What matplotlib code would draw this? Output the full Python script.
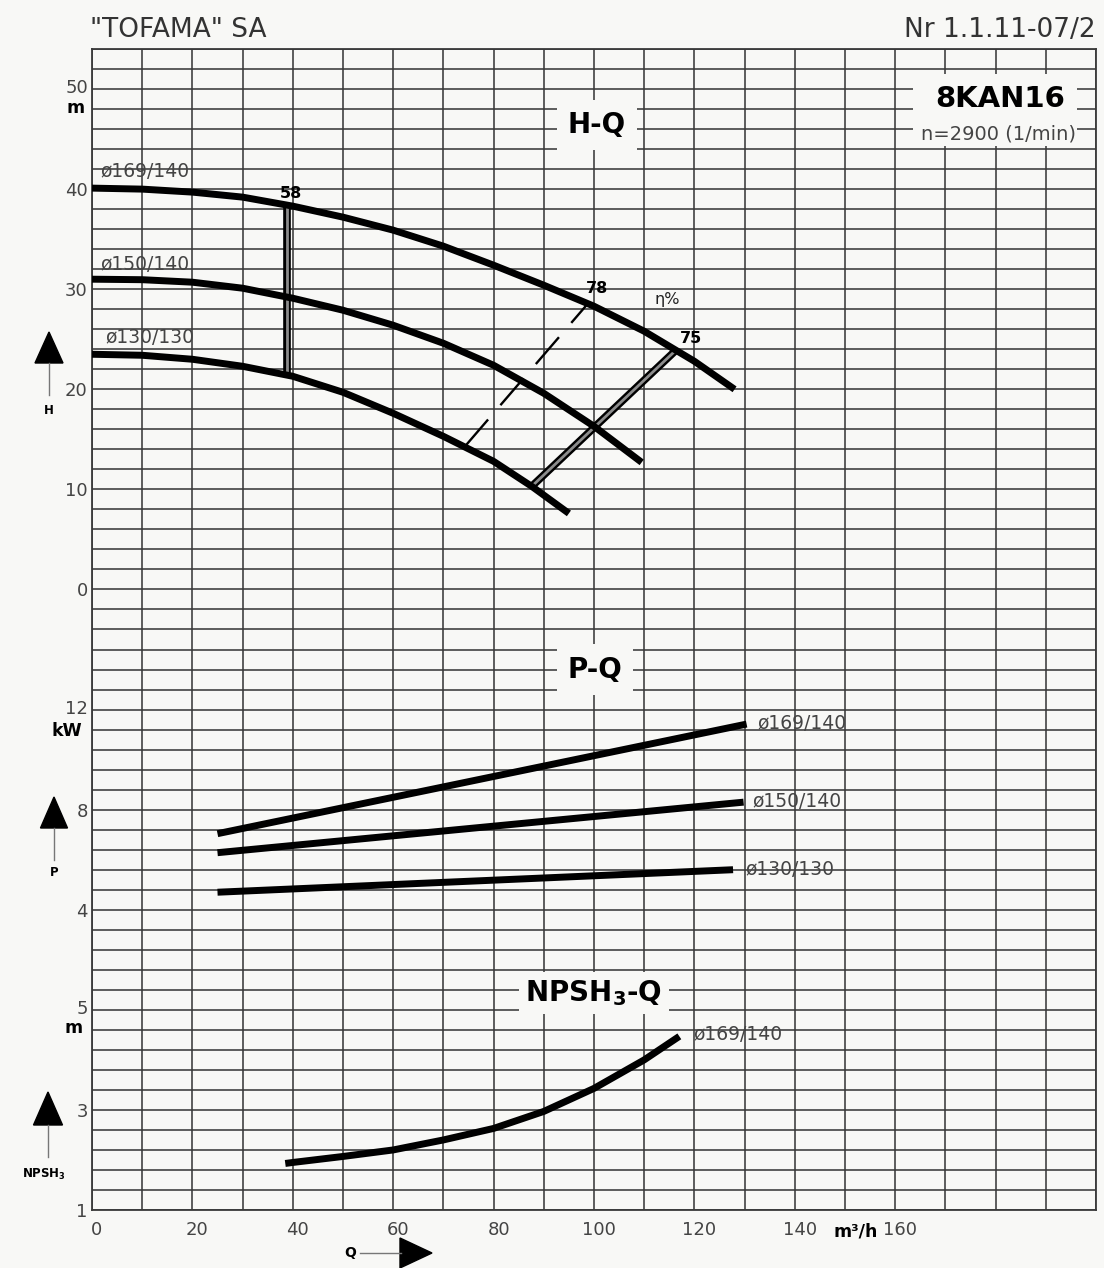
import numpy as np
import matplotlib
matplotlib.use("Agg")
import matplotlib.pyplot as plt
from matplotlib.patches import Polygon, Rectangle
from matplotlib.lines import Line2D
from matplotlib.transforms import ScaledTranslation

plt.rcParams['font.family'] = ['DejaVu Sans']
plt.rcParams['mathtext.fontset'] = 'dejavusans'

# ---------------- data ----------------
# H-Q curves (Q in m3/h, H in m)
q_169 = [0, 10, 20, 30, 40, 50, 60, 70, 80, 90, 100, 110, 120, 128]
h_169 = [40.1, 40.0, 39.7, 39.2, 38.3, 37.2, 35.9, 34.3, 32.4, 30.4, 28.3, 25.8, 22.8, 20.0]

q_150 = [0, 10, 20, 30, 40, 50, 60, 70, 80, 90, 100, 109.5]
h_150 = [31.0, 30.95, 30.7, 30.1, 29.1, 27.9, 26.4, 24.6, 22.4, 19.6, 16.3, 12.7]

q_130 = [0, 10, 20, 30, 40, 50, 60, 70, 80, 87.6, 95]
h_130 = [23.5, 23.4, 23.0, 22.3, 21.3, 19.7, 17.6, 15.3, 12.8, 10.3, 7.6]

# efficiency iso-lines (eta %)
eff_58_q = [38.8, 38.8]
eff_58_h = [38.2, 21.4]
eff_78_q = [74.3, 98.5]
eff_78_h = [14.3, 28.4]
eff_75_q = [87.6, 116.1]
eff_75_h = [10.3, 23.8]
eff_values = [58, 78, 75]

# P-Q curves (kW)
pq_169 = [25, 130.4]
p_169 = [7.04, 11.42]
pq_150 = [25, 129.8]
p_150 = [6.28, 8.30]
pq_130 = [25, 127.7]
p_130 = [4.70, 5.60]

# NPSH3-Q curve (m)
nq_169 = [38.5, 40, 50, 60, 70, 80, 90, 100, 110, 117]
npsh_169 = [1.93, 1.95, 2.07, 2.20, 2.40, 2.63, 2.97, 3.43, 4.00, 4.47]

impellers = ["ø169/140", "ø150/140", "ø130/130"]

x_ticks = [0, 20, 40, 60, 80, 100, 120, 140, 160]
h_ticks = [0, 10, 20, 30, 40, 50]
p_ticks = [4, 8, 12]
n_ticks = [1, 3, 5]

# ---------------- figure ----------------
W, HP = 1104, 1268
BG = '#f8f8f6'
GRID = '#3a3a3a'
TXT = '#444444'


def fp(x, y):
    """pixel position -> figure fraction"""
    return (x / W, 1 - y / HP)


fig = plt.figure(figsize=(W / 100, HP / 100), dpi=100)
fig.patch.set_facecolor(BG)

ax = fig.add_axes([92 / W, 1 - 1210 / HP, (1096 - 92) / W, (1210 - 49) / HP])
ax.set_facecolor(BG)
ax.set_xlim(0, 200)
ax.set_ylim(-62, 54)

# shared chart grid
ax.set_xticks(x_ticks)
ax.set_xticklabels([str(v) for v in x_ticks])
ax.set_xticks(np.arange(0, 201, 10), minor=True)
ax.set_yticks(h_ticks)
ax.set_yticklabels([str(v) for v in h_ticks])
ax.set_yticks(np.arange(-62, 55, 2), minor=True)
ax.set_axisbelow(True)
ax.grid(True, which='both', color=GRID, lw=1.15)
ax.tick_params(which='both', length=0)
ax.tick_params(axis='x', pad=8, labelsize=13, labelcolor=TXT)
ax.tick_params(axis='y', pad=3, labelsize=13, labelcolor=TXT)
for s in ax.spines.values():
    s.set_color(GRID)
    s.set_linewidth(1.3)
for lab in ax.get_xticklabels():
    lab.set_transform(lab.get_transform() + ScaledTranslation(5 / 100, 0, fig.dpi_scale_trans))
# the top H label sits slightly above its grid line, leaving room for the unit
top_lab = ax.get_yticklabels()[-1]
top_lab.set_transform(top_lab.get_transform() + ScaledTranslation(0, 3 / 100, fig.dpi_scale_trans))

# power axis and NPSH axis share the same frame
axP = ax.twinx()
axP.set_ylim(-8, 38.4)
axN = ax.twinx()
axN.set_ylim(1, 24.2)
for a, ticks in ((axP, p_ticks), (axN, n_ticks)):
    a.yaxis.tick_left()
    a.set_yticks(ticks)
    a.set_yticklabels([str(v) for v in ticks])
    a.tick_params(axis='y', length=0, pad=3, labelsize=13, labelcolor=TXT,
                  left=False, right=False, labelleft=True, labelright=False)
    for s in a.spines.values():
        s.set_visible(False)
for a in (axP, axN):
    lab = a.get_yticklabels()[-1]
    lab.set_transform(lab.get_transform() + ScaledTranslation(0, 3 / 100, fig.dpi_scale_trans))

# ---------------- H-Q ----------------
# efficiency lines
ax.plot(eff_78_q, eff_78_h, color='black', lw=1.7, ls=(0, (15, 8)), zorder=3)
for q, h in ((eff_58_q, eff_58_h), (eff_75_q, eff_75_h)):
    ax.plot(q, h, color='black', lw=5.5, solid_capstyle='butt', zorder=3)
    ax.plot(q, h, color='#8c8c8c', lw=2.0, solid_capstyle='butt', zorder=3.1)

for q, h in ((q_169, h_169), (q_150, h_150), (q_130, h_130)):
    ax.plot(q, h, color='black', lw=5.0, solid_capstyle='butt',
            solid_joinstyle='round', zorder=4)

ax.text(1.6, 41.8, impellers[0], fontsize=13.5, color=TXT, va='center', ha='left', zorder=5)
ax.text(1.6, 32.5, impellers[1], fontsize=13.5, color=TXT, va='center', ha='left', zorder=5)
ax.text(2.6, 25.2, impellers[2], fontsize=13.5, color=TXT, va='center', ha='left', zorder=5)

ax.text(eff_58_q[0] + 0.8, eff_58_h[0] + 1.4, str(eff_values[0]), fontsize=11.5,
        fontweight='bold', ha='center', va='center', zorder=5)
ax.text(eff_78_q[1] + 2.1, eff_78_h[1] + 1.7, str(eff_values[1]), fontsize=11.5,
        fontweight='bold', ha='center', va='center', zorder=5)
ax.text(eff_75_q[1] + 3.2, eff_75_h[1] + 1.3, str(eff_values[2]), fontsize=11.5,
        fontweight='bold', ha='center', va='center', zorder=5)
ax.text(114.5, 29.0, "η%", fontsize=11.5, color='#222222', ha='center', va='center', zorder=5)

box = dict(boxstyle='square,pad=0.4', fc=BG, ec='none')
box_n = dict(boxstyle='square,pad=0.22', fc=BG, ec='none')
ax.text(100.6, 46.4, "H-Q", fontsize=20, fontweight='bold', ha='center', va='center',
        bbox=box, zorder=5)
ax.text(100.2, -8.0, "P-Q", fontsize=20, fontweight='bold', ha='center', va='center',
        bbox=box, zorder=5)
ax.text(100.0, -40.3, r"NPSH$_\mathbf{3}$-Q", fontsize=20, fontweight='bold',
        ha='center', va='center', bbox=box_n, zorder=5)

# model block
ax.add_patch(Rectangle((163.5, 44.3), 32.7, 7.2, fc=BG, ec='none', zorder=4))
ax.text(180.9, 49.0, "8KAN16", fontsize=21, fontweight='bold', ha='center', va='center', zorder=5)
ax.text(180.5, 45.5, "n=2900 (1/min)", fontsize=14, color=TXT, ha='center', va='center', zorder=5)

# ---------------- P-Q ----------------
for q, p in ((pq_169, p_169), (pq_150, p_150), (pq_130, p_130)):
    axP.plot(q, p, color='black', lw=5.0, solid_capstyle='butt')
axP.text(132.5, 11.44, impellers[0], fontsize=13.5, color=TXT, va='center', ha='left')
axP.text(131.5, 8.32, impellers[1], fontsize=13.5, color=TXT, va='center', ha='left')
axP.text(130.1, 5.60, impellers[2], fontsize=13.5, color=TXT, va='center', ha='left')

# ---------------- NPSH-Q ----------------
axN.plot(nq_169, npsh_169, color='black', lw=5.0, solid_capstyle='butt', solid_joinstyle='round')
axN.text(119.7, 4.5, impellers[0], fontsize=13.5, color=TXT, va='center', ha='left')

# ---------------- units, arrows, header ----------------
fig.text(*fp(76, 108), "m", fontsize=12.5, fontweight='bold', ha='center', va='center')
fig.text(*fp(67, 731), "kW", fontsize=12.5, fontweight='bold', ha='center', va='center')
fig.text(*fp(74, 1028), "m", fontsize=12.5, fontweight='bold', ha='center', va='center')
fig.text(*fp(856, 1232), "m³/h", fontsize=12.5, fontweight='bold', ha='center', va='center')


def up_arrow(xc, tip, base, half, tail):
    fig.add_artist(Polygon([fp(xc - half, base), fp(xc + half, base), fp(xc, tip)],
                           closed=True, fc='black', ec='black', transform=fig.transFigure))
    x0, y0 = fp(xc, base)
    x1, y1 = fp(xc, tail)
    fig.add_artist(Line2D([x0, x1], [y0, y1], color='#777777', lw=1.0,
                          transform=fig.transFigure))


up_arrow(49, 332, 363, 14, 395)
fig.text(*fp(49, 410), "H", fontsize=8.5, fontweight='bold', ha='center', va='center')
up_arrow(54, 797, 828, 13.5, 860)
fig.text(*fp(54, 872), "P", fontsize=8.5, fontweight='bold', ha='center', va='center')
up_arrow(48, 1092, 1125, 14.5, 1157)
fig.text(*fp(44, 1174), r"NPSH$_\mathbf{3}$", fontsize=8.5, fontweight='bold', ha='center', va='center')

# flow direction arrow
fig.text(*fp(350, 1253), "Q", fontsize=10, fontweight='bold', ha='center', va='center')
xa, ya = fp(360, 1253)
xb, yb = fp(401, 1253)
fig.add_artist(Line2D([xa, xb], [ya, yb], color='#777777', lw=1.0, transform=fig.transFigure))
fig.add_artist(Polygon([fp(400, 1238), fp(400, 1268), fp(432, 1253)], closed=True,
                       fc='black', ec='black', transform=fig.transFigure))

fig.text(*fp(90, 30), '"TOFAMA" SA', fontsize=19, color='#333333', ha='left', va='center')
fig.text(*fp(1096, 30), "Nr 1.1.11-07/2", fontsize=19, color='#333333', ha='right', va='center')

fig.savefig("out.png", dpi=100, facecolor=fig.get_facecolor())
